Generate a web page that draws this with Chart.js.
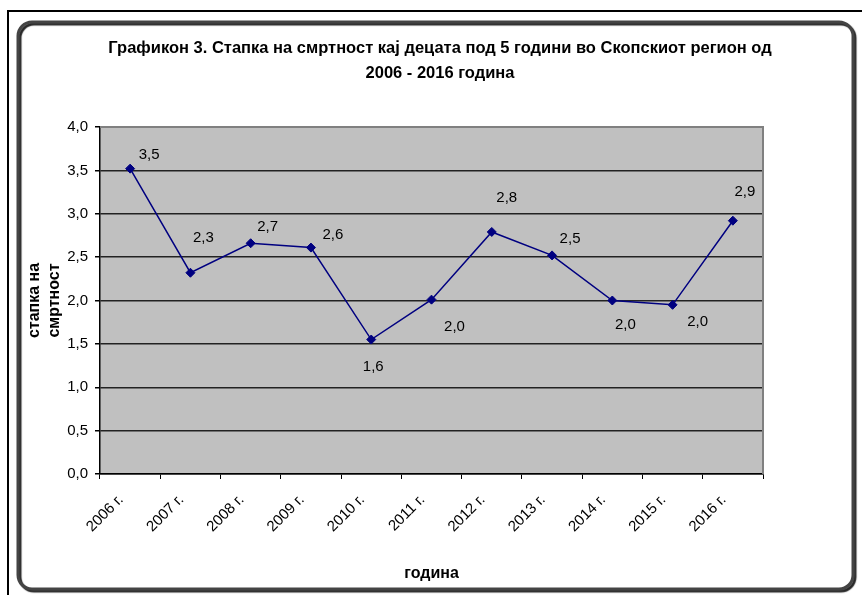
<!DOCTYPE html>
<html>
<head>
<meta charset="utf-8">
<title>Стапка на смртност кај децата под 5 години</title>
<script src="https://cdn.jsdelivr.net/npm/chart.js@4/dist/chart.umd.min.js"></script>
<style>
  html, body { margin: 0; padding: 0; background: #fff; }
  #wrap { width: 862px; height: 595px; }
</style>
</head>
<body>
<div id="wrap"><canvas id="mortality" width="862" height="595"></canvas></div>
<script>
// --- data ---------------------------------------------------------------
const YEARS = ['2006 г.', '2007 г.', '2008 г.', '2009 г.', '2010 г.', '2011 г.',
               '2012 г.', '2013 г.', '2014 г.', '2015 г.', '2016 г.'];
const RATES = [3.52, 2.32, 2.66, 2.61, 1.55, 2.01, 2.79, 2.52, 2.00, 1.95, 2.92];
const Y_MIN = 0;
const Y_MAX = 4;
const Y_STEP = 0.5;

const TITLE = ['Графикон 3. Стапка на смртност кај децата под 5 години во Скопскиот регион од',
               '2006 - 2016 година'];
const X_TITLE = 'година';
const Y_TITLE = ['стапка на', 'смртност'];

// where each value label sits relative to its point (dx, dy in px)
const LABEL_OFFSETS = [[19, -14], [13, -35], [17, -16], [22, -13], [2, 27], [23, 27],
                       [15, -34], [18, -17], [13, 24], [25, 17], [12, -29]];

const FONT = '"Liberation Sans", Arial, sans-serif';
Chart.defaults.font.family = FONT;
Chart.defaults.color = '#000';

const comma = v => v.toFixed(1).replace('.', ',');
const round1 = v => Math.round(v * 10) / 10;

// white page, black rule on top/left, rounded shadowed box, grey plot area
const frame = {
  id: 'frame',
  beforeDraw(chart) {
    const { ctx, width, height, chartArea: a } = chart;
    ctx.save();
    ctx.fillStyle = '#fff';
    ctx.fillRect(0, 0, width, height);

    ctx.strokeStyle = '#000';
    ctx.lineWidth = 2;
    ctx.beginPath();
    ctx.moveTo(8, height);
    ctx.lineTo(8, 11);
    ctx.lineTo(width, 11);
    ctx.stroke();

    ctx.shadowColor = 'rgba(0,0,0,0.85)';
    ctx.shadowOffsetX = 2;
    ctx.shadowOffsetY = 2;
    ctx.shadowBlur = 1;
    ctx.strokeStyle = '#444';
    ctx.lineWidth = 3;
    ctx.beginPath();
    ctx.roundRect(18, 22, 835, 567, 14);
    ctx.stroke();
    ctx.restore();

    ctx.fillStyle = '#c0c0c0';
    ctx.fillRect(a.left, a.top, a.right - a.left, a.bottom - a.top);
  },
  beforeDatasetsDraw(chart) {
    // grey top and right edge of the plot area
    const { ctx, chartArea: a } = chart;
    ctx.save();
    ctx.strokeStyle = '#808080';
    ctx.lineWidth = 2;
    ctx.beginPath();
    ctx.moveTo(a.left, a.top);
    ctx.lineTo(a.right, a.top);
    ctx.lineTo(a.right, a.bottom);
    ctx.stroke();
    ctx.restore();
  }
};

// value labels next to each point
const pointLabels = {
  id: 'pointLabels',
  afterDatasetsDraw(chart) {
    const { ctx } = chart;
    const meta = chart.getDatasetMeta(0);
    ctx.save();
    ctx.font = '15px ' + FONT;
    ctx.fillStyle = '#000';
    ctx.textAlign = 'center';
    ctx.textBaseline = 'middle';
    meta.data.forEach((pt, i) => {
      const [dx, dy] = LABEL_OFFSETS[i];
      ctx.fillText(comma(round1(RATES[i])), pt.x + dx, pt.y + dy);
    });
    ctx.restore();
  }
};

new Chart(document.getElementById('mortality'), {
  type: 'line',
  data: {
    labels: YEARS,
    datasets: [{
      data: RATES,
      borderColor: '#000080',
      borderWidth: 1.5,
      pointStyle: 'rectRot',
      pointRadius: 4.5,
      pointHoverRadius: 4.5,
      pointBorderWidth: 1,
      pointBackgroundColor: '#000080',
      pointBorderColor: '#000080',
      tension: 0
    }]
  },
  options: {
    responsive: false,
    animation: false,
    layout: { padding: { top: 22, left: 20, right: 2, bottom: 10 } },
    plugins: {
      legend: { display: false },
      tooltip: { enabled: false },
      title: {
        display: true,
        text: TITLE,
        font: { size: 16.5, weight: 'bold', lineHeight: '25px' },
        color: '#000',
        padding: { top: 14, bottom: 41 }
      }
    },
    scales: {
      x: {
        offset: true,
        afterFit: s => { s.height = 111; },
        grid: { offset: true, drawOnChartArea: false, tickLength: 5, color: '#000' },
        border: { color: '#000', width: 1.5 },
        ticks: { autoSkip: false, minRotation: 45, maxRotation: 45, padding: 12, labelOffset: -9, font: { size: 15 } },
        title: { display: true, text: X_TITLE, font: { size: 16, weight: 'bold' }, padding: { top: 0, bottom: 2 } }
      },
      y: {
        min: Y_MIN,
        max: Y_MAX,
        afterFit: s => { s.width = 80; },
        grid: {
          color: c => (c.tick && c.tick.value === Y_MAX ? 'rgba(0,0,0,0)' : '#222'),
          lineWidth: 1.5,
          tickColor: '#000',
          tickLength: 5
        },
        border: { color: '#000', width: 1.5 },
        ticks: { stepSize: Y_STEP, padding: 7, font: { size: 15 }, callback: v => comma(v) },
        title: { display: true, text: Y_TITLE, font: { size: 16, weight: 'bold', lineHeight: 1.25 }, padding: { top: 5, bottom: 0 } }
      },
      // empty right-hand strip between the plot and the frame
      gutter: {
        type: 'linear',
        position: 'right',
        afterFit: s => { s.width = 97; },
        grid: { display: false },
        border: { display: false },
        ticks: { display: false }
      }
    }
  },
  plugins: [frame, pointLabels]
});
</script>
</body>
</html>
